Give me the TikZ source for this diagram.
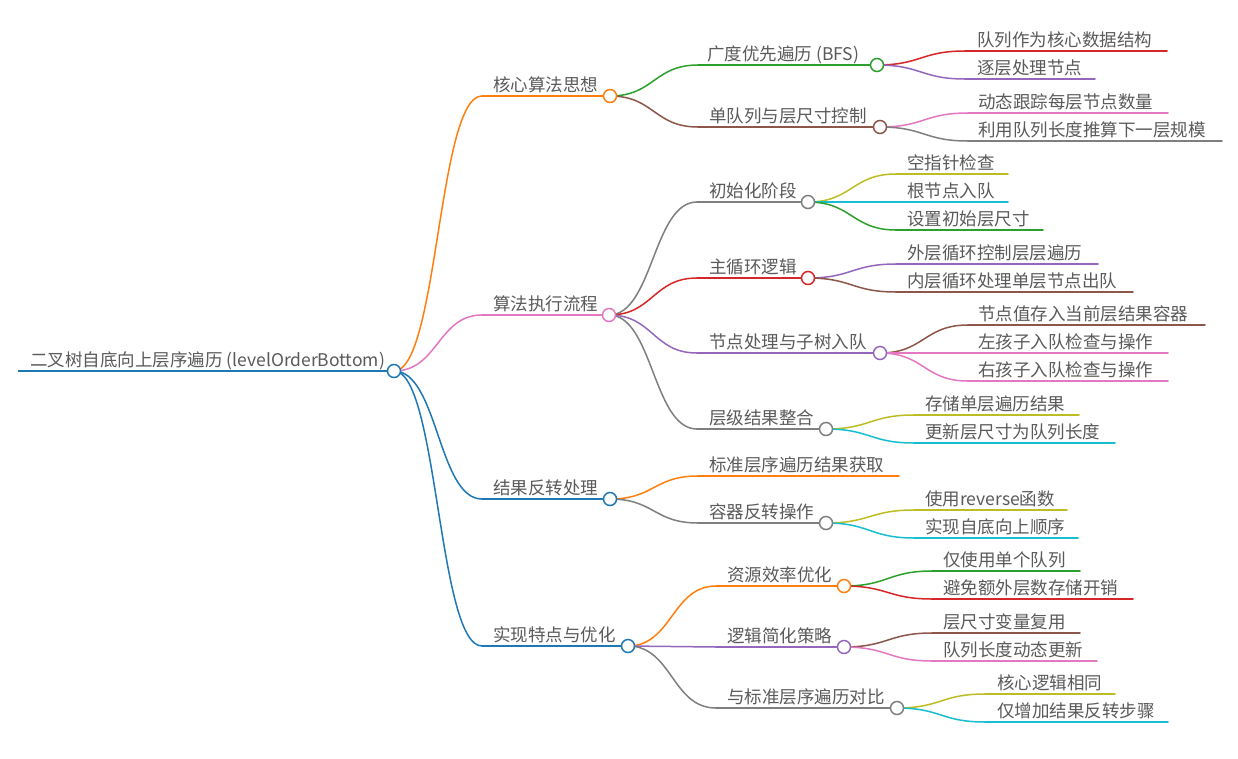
\documentclass[tikz,border=0pt]{standalone}
\usepackage{fontspec}
\setmainfont{Noto Sans CJK SC}
\usetikzlibrary{calc}
\definecolor{cblue}{HTML}{1F77B4}
\definecolor{corange}{HTML}{FF7F0E}
\definecolor{cgreen}{HTML}{2CA02C}
\definecolor{cred}{HTML}{D62728}
\definecolor{cpurple}{HTML}{9467BD}
\definecolor{cbrown}{HTML}{8C564B}
\definecolor{cpink}{HTML}{E377C2}
\definecolor{cgray}{HTML}{7F7F7F}
\definecolor{colive}{HTML}{BCBD22}
\definecolor{ccyan}{HTML}{17BECF}
\definecolor{ctext}{HTML}{5A5A5A}
\tikzset{
  mmline/.style={line width=1.5pt, line cap=round},
  mmtext/.style={inner sep=0pt, text=ctext, font=\fontsize{17.5}{20}\selectfont},
  mmdot/.style={circle, minimum size=13pt, inner sep=0pt, fill=white, line width=1.5pt},
}
% name, xs, xe, y, textx, colour, text
\newcommand\mmtopic[7]{%
  \coordinate (#1-s) at (#2,#4);
  \coordinate (#1-e) at (#3,#4);
  \draw[mmline,draw=#6] (#1-s) -- (#1-e);
  \node[mmtext,anchor=base west] (#1-t) at (#5,#4-5) {#7};
}
% parent, child, colour
\newcommand\mmlink[3]{%
  \draw[mmline,draw=#3] let \p1=(#1-c), \p2=(#2-s) in
    (\p1) .. controls ({(\x1+\x2)/2},\y1) and ({(\x1+\x2)/2},\y2) .. (\p2);
}
\newcommand\mmdotat[2]{%
  \node[mmdot,draw=#2] (#1-dot) at (#1-c) {};
}
\begin{document}
\begin{tikzpicture}[x=1pt,y=-1pt]
\useasboundingbox (0,0) rectangle (1238,758);
\fill[white] (0,0) rectangle (1238,758);

% root
\coordinate (R-s) at (18,371);
\coordinate (R-e) at (387,371);
\draw[line width=2pt,draw=cblue] (R-s) -- (R-e);
\node[mmtext,anchor=base west] (R-t) at (30,366) {二叉树自底向上层序遍历 (levelOrderBottom)};
\coordinate (R-c) at (394,371);

% level 1
\mmtopic{A}{482}{603}{96}{493}{corange}{核心算法思想}
\coordinate (A-c) at (610,96);
\mmtopic{B}{482}{602}{315}{493}{cpink}{算法执行流程}
\coordinate (B-c) at (609,315);
\mmtopic{C}{482}{603}{499}{493}{cblue}{结果反转处理}
\coordinate (C-c) at (610,499);
\mmtopic{D}{482}{621}{646}{493}{cblue}{实现特点与优化}
\coordinate (D-c) at (628,646);

% under A
\mmtopic{A1}{698}{870}{65}{707}{cgreen}{广度优先遍历 (BFS)}
\coordinate (A1-c) at (877,65);
\mmtopic{A2}{698}{873}{127}{709}{cbrown}{单队列与层尺寸控制}
\coordinate (A2-c) at (880,127);
\mmtopic{A1a}{965}{1167}{51}{977}{cred}{队列作为核心数据结构}
\mmtopic{A1b}{965}{1095}{79}{977}{cpurple}{逐层处理节点}
\mmtopic{A2a}{968}{1168}{113}{978}{cpink}{动态跟踪每层节点数量}
\mmtopic{A2b}{968}{1222}{141}{978}{cgray}{利用队列长度推算下一层规模}

% under B
\mmtopic{B1}{697}{801}{202}{709}{cgray}{初始化阶段}
\coordinate (B1-c) at (808,202);
\mmtopic{B2}{697}{801}{278}{709}{cred}{主循环逻辑}
\coordinate (B2-c) at (808,278);
\mmtopic{B3}{697}{873}{353}{709}{cpurple}{节点处理与子树入队}
\coordinate (B3-c) at (880,353);
\mmtopic{B4}{697}{819}{429}{709}{cgray}{层级结果整合}
\coordinate (B4-c) at (826,429);
\mmtopic{B1a}{896}{1008}{174}{907}{colive}{空指针检查}
\mmtopic{B1b}{896}{1008}{202}{907}{ccyan}{根节点入队}
\mmtopic{B1c}{896}{1043}{230}{907}{cgreen}{设置初始层尺寸}
\mmtopic{B2a}{896}{1098}{264}{907}{cpurple}{外层循环控制层层遍历}
\mmtopic{B2b}{896}{1133}{292}{907}{cbrown}{内层循环处理单层节点出队}
\mmtopic{B3a}{968}{1205}{325}{978}{cbrown}{节点值存入当前层结果容器}
\mmtopic{B3b}{968}{1168}{353}{978}{cpink}{左孩子入队检查与操作}
\mmtopic{B3c}{968}{1168}{381}{978}{cpink}{右孩子入队检查与操作}
\mmtopic{B4a}{914}{1079}{415}{925}{colive}{存储单层遍历结果}
\mmtopic{B4b}{914}{1115}{443}{925}{ccyan}{更新层尺寸为队列长度}

% under C
\mmtopic{C1}{698}{899}{476}{709}{corange}{标准层序遍历结果获取}
\mmtopic{C2}{698}{819}{523}{709}{cgray}{容器反转操作}
\coordinate (C2-c) at (826,523);
\mmtopic{C2a}{914}{1067}{510}{925}{colive}{使用reverse函数}
\mmtopic{C2b}{914}{1078}{538}{925}{ccyan}{实现自底向上顺序}

% under D
\mmtopic{D1}{716}{837}{586}{727}{corange}{资源效率优化}
\coordinate (D1-c) at (844,586);
\mmtopic{D2}{716}{837}{647}{727}{cpurple}{逻辑简化策略}
\coordinate (D2-c) at (844,647);
\mmtopic{D3}{716}{890}{708}{727}{cgray}{与标准层序遍历对比}
\coordinate (D3-c) at (897,708);
\mmtopic{D1a}{932}{1080}{571}{943}{cgreen}{仅使用单个队列}
\mmtopic{D1b}{932}{1133}{599}{943}{cred}{避免额外层数存储开销}
\mmtopic{D2a}{932}{1080}{633}{943}{cbrown}{层尺寸变量复用}
\mmtopic{D2b}{932}{1097}{661}{943}{cpink}{队列长度动态更新}
\mmtopic{D3a}{985}{1115}{694}{997}{colive}{核心逻辑相同}
\mmtopic{D3b}{985}{1168}{722}{997}{ccyan}{仅增加结果反转步骤}

% links
\mmlink{R}{A}{corange}
\mmlink{R}{B}{cpink}
\mmlink{R}{C}{cblue}
\mmlink{R}{D}{cblue}
\mmlink{A}{A1}{cgreen}
\mmlink{A}{A2}{cbrown}
\mmlink{A1}{A1a}{cred}
\mmlink{A1}{A1b}{cpurple}
\mmlink{A2}{A2a}{cpink}
\mmlink{A2}{A2b}{cgray}
\mmlink{B}{B1}{cgray}
\mmlink{B}{B2}{cred}
\mmlink{B}{B3}{cpurple}
\mmlink{B}{B4}{cgray}
\mmlink{B1}{B1a}{colive}
\mmlink{B1}{B1b}{ccyan}
\mmlink{B1}{B1c}{cgreen}
\mmlink{B2}{B2a}{cpurple}
\mmlink{B2}{B2b}{cbrown}
\mmlink{B3}{B3a}{cbrown}
\mmlink{B3}{B3b}{cpink}
\mmlink{B3}{B3c}{cpink}
\mmlink{B4}{B4a}{colive}
\mmlink{B4}{B4b}{ccyan}
\mmlink{C}{C1}{corange}
\mmlink{C}{C2}{cgray}
\mmlink{C2}{C2a}{colive}
\mmlink{C2}{C2b}{ccyan}
\mmlink{D}{D1}{corange}
\mmlink{D}{D2}{cpurple}
\mmlink{D}{D3}{cgray}
\mmlink{D1}{D1a}{cgreen}
\mmlink{D1}{D1b}{cred}
\mmlink{D2}{D2a}{cbrown}
\mmlink{D2}{D2b}{cpink}
\mmlink{D3}{D3a}{colive}
\mmlink{D3}{D3b}{ccyan}

% circles
\mmdotat{R}{cblue}
\mmdotat{A}{corange}
\mmdotat{B}{cpink}
\mmdotat{C}{cblue}
\mmdotat{D}{cblue}
\mmdotat{A1}{cgreen}
\mmdotat{A2}{cbrown}
\mmdotat{B1}{cgray}
\mmdotat{B2}{cred}
\mmdotat{B3}{cpurple}
\mmdotat{B4}{cgray}
\mmdotat{C2}{cgray}
\mmdotat{D1}{corange}
\mmdotat{D2}{cpurple}
\mmdotat{D3}{cgray}
\end{tikzpicture}
\end{document}
